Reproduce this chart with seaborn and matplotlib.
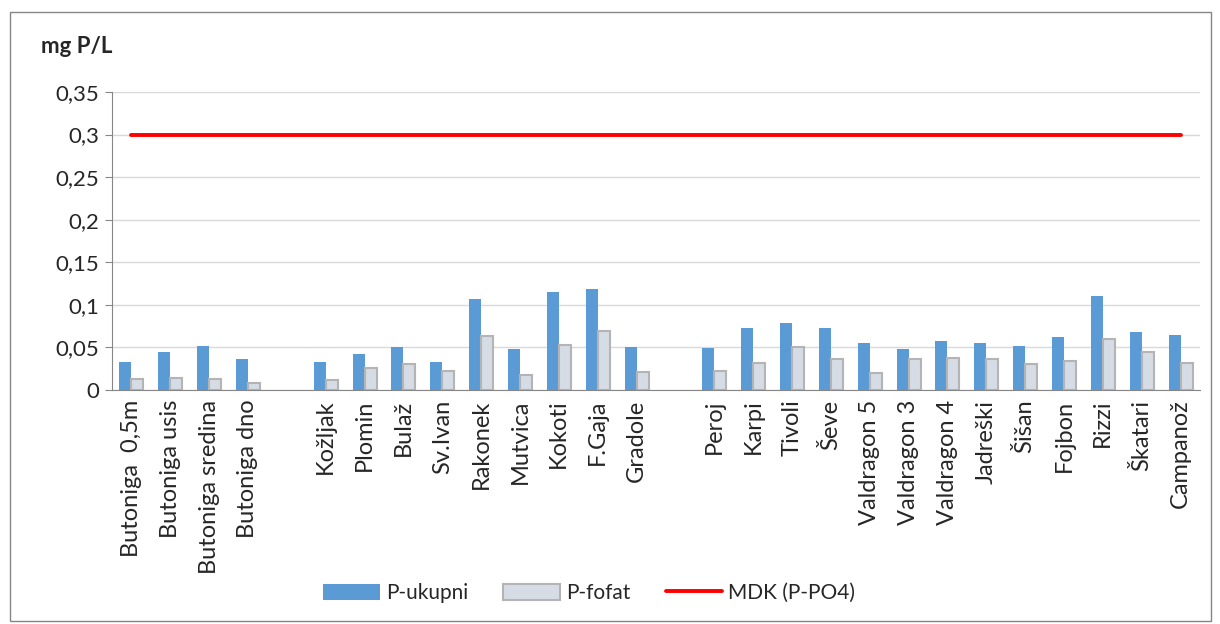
import seaborn as sns
import matplotlib.pyplot as plt
import matplotlib.patches as mpatches
from matplotlib.lines import Line2D
from matplotlib.colors import to_rgba
from matplotlib.ticker import FuncFormatter, MultipleLocator
import numpy as np
import pandas as pd

# podaci
postaje = ["Butoniga  0,5m", "Butoniga usis", "Butoniga sredina", "Butoniga dno", " ",
           "Kožljak", "Plomin", "Bulaž", "Sv.Ivan", "Rakonek", "Mutvica", "Kokoti", "F.Gaja", "Gradole", "  ",
           "Peroj", "Karpi", "Tivoli", "Ševe", "Valdragon 5", "Valdragon 3", "Valdragon 4", "Jadreški",
           "Šišan", "Fojbon", "Rizzi", "Škatari", "Campanož"]
p_ukupni = [0.033, 0.045, 0.052, 0.036, np.nan,
            0.033, 0.042, 0.051, 0.033, 0.107, 0.048, 0.115, 0.119, 0.051, np.nan,
            0.049, 0.073, 0.079, 0.073, 0.055, 0.048, 0.058, 0.055, 0.052, 0.062, 0.110, 0.068, 0.065]
p_fosfat = [0.013, 0.014, 0.013, 0.008, np.nan,
            0.012, 0.026, 0.031, 0.022, 0.063, 0.018, 0.053, 0.069, 0.021, np.nan,
            0.022, 0.032, 0.050, 0.036, 0.020, 0.036, 0.038, 0.036, 0.031, 0.034, 0.060, 0.045, 0.032]
mdk = [0.3] * len(postaje)

df = pd.DataFrame({
    "postaja": postaje * 2,
    "vrijednost": p_ukupni + p_fosfat,
    "serija": ["P-ukupni"] * len(postaje) + ["P-fofat"] * len(postaje),
})

sns.set_style("white")
plt.rcParams["font.family"] = ["Lato", "DejaVu Sans"]
fs = 16

fig = plt.figure(figsize=(12.2, 6.24), dpi=100)
ax = fig.add_axes([0.0918, 0.375, 0.8918, 0.4776])

plava = "#5b9bd5"
siva = "#d6dce5"
sns.barplot(data=df, x="postaja", y="vrijednost", hue="serija", order=postaje,
            hue_order=["P-ukupni", "P-fofat"],
            palette={"P-ukupni": plava, "P-fofat": siva}, width=0.62, gap=0.0,
            saturation=1, ax=ax, legend=False)
n = len(postaje)
for bar in ax.patches:
    if np.allclose(bar.get_facecolor(), to_rgba(siva), atol=0.01):
        bar.set_edgecolor("#b4b4b4")
        bar.set_linewidth(1.5)
    else:
        bar.set_edgecolor("none")

x = np.arange(n)
ax.plot(x, mdk, color="#ff0000", linewidth=2.8)

ax.set_xlim(-0.5, n - 0.5)
ax.set_ylim(0, 0.35)
ax.yaxis.set_major_locator(MultipleLocator(0.05))
ax.yaxis.set_major_formatter(FuncFormatter(lambda v, p: "0" if v == 0 else f"{v:.2f}".rstrip("0").replace(".", ",")))
ax.grid(axis="y", color="#d9d9d9", linewidth=1)
ax.set_axisbelow(True)

ax.set_xticks(x)
ax.set_xticklabels(postaje, rotation=90, fontsize=17)
ax.set_xticks(np.arange(-0.5, n), minor=True)
ax.tick_params(axis="x", which="major", length=0, pad=7)
ax.tick_params(axis="x", which="minor", length=6, color="#868686", width=1)
ax.tick_params(axis="y", length=5, color="#868686", labelsize=fs, left=True, pad=4)
ax.set_xlabel("")
ax.set_ylabel("")

for s in ["top", "right"]:
    ax.spines[s].set_visible(False)
for s in ["left", "bottom"]:
    ax.spines[s].set_color("#868686")

fig.text(0.034, 0.925, "mg P/L", fontsize=fs, fontweight="bold", ha="left", va="center")

handles = [mpatches.Patch(facecolor=plava, edgecolor="none"),
           mpatches.Patch(facecolor=siva, edgecolor="#b4b4b4", linewidth=1.5),
           Line2D([0], [0], color="#ff0000", linewidth=2.8)]
fig.legend(handles, ["P-ukupni", "P-fofat", "MDK (P-PO4)"], loc="center", bbox_to_anchor=(0.483, 0.05),
           ncol=3, frameon=False, fontsize=15, handlelength=2.7, handleheight=0.8,
           columnspacing=1.7, handletextpad=0.3)

fig.patches.append(mpatches.Rectangle((0.008, 0.005), 0.985, 0.975, transform=fig.transFigure,
                                      fill=False, edgecolor="#868686", linewidth=1))

plt.savefig("out.png", dpi=100)
